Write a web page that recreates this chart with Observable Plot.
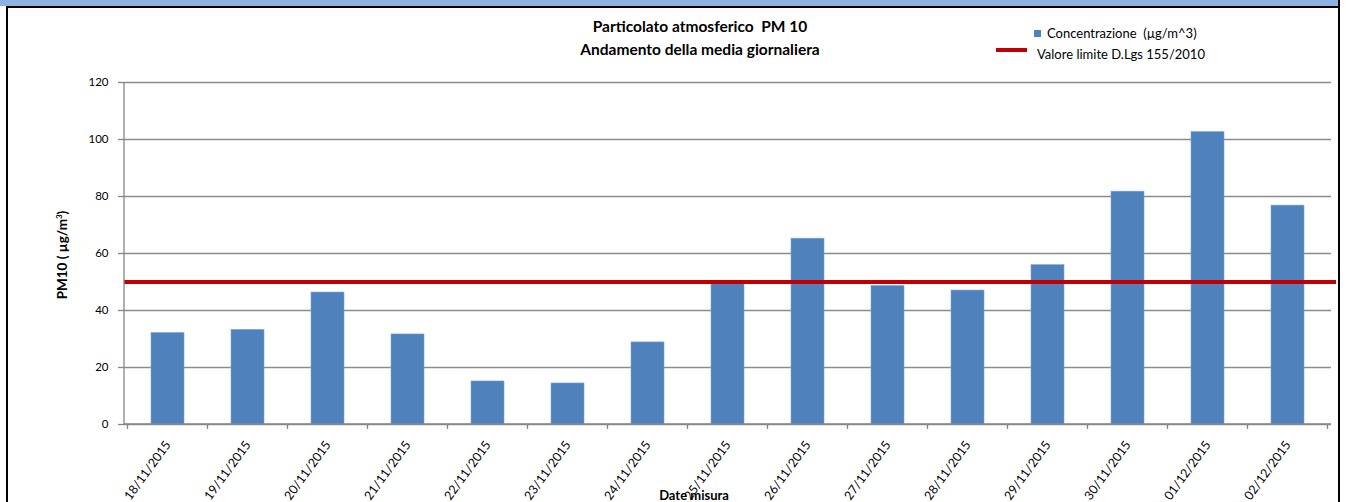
<!DOCTYPE html>
<html>
<head>
<meta charset="utf-8">
<script src="https://cdn.jsdelivr.net/npm/d3@7"></script>
<script src="https://cdn.jsdelivr.net/npm/@observablehq/plot@0.6"></script>
<style>
  html, body { margin: 0; padding: 0; background: #fff; }
  #wrap { position: relative; width: 1346px; height: 502px; overflow: hidden; font-family: Lato, "Open Sans", sans-serif; color: #000; }
  #chart { position: absolute; left: 0; top: 0; }
  .abs { position: absolute; white-space: nowrap; }
  #band { left: 0; top: 0; width: 1340px; height: 6px; background: #8DB3E2; }
  #topline { left: 6px; top: 6px; width: 1334px; height: 2px; background: #000; }
  #leftline { left: 6px; top: 6px; width: 2px; height: 496px; background: #000; }
  #rightline { left: 1338px; top: 0px; width: 2px; height: 502px; background: #000; }
  .title { left: 450px; width: 500px; text-align: center; font-weight: bold; font-size: 15.5px; }
  .leg { font-size: 13px; }
</style>
</head>
<body>
<div id="wrap">
  <div id="chart"></div>
  <div class="abs" id="band"></div>
  <div class="abs" id="topline"></div>
  <div class="abs" id="leftline"></div>
  <div class="abs" id="rightline"></div>
  <div class="abs title" style="top:17px">Particolato atmosferico&nbsp;&nbsp;PM 10</div>
  <div class="abs title" style="top:40px">Andamento della media giornaliera</div>
  <div class="abs" style="left:1034px; top:30px; width:7px; height:7px; background:#4F81BD"></div>
  <div class="abs leg" style="left:1047px; top:25px">Concentrazione&nbsp;&nbsp;(µg/m^3)</div>
  <div class="abs" style="left:996px; top:48px; width:31px; height:4px; background:#C00000"></div>
  <div class="abs leg" style="left:1037px; top:46px">Valore limite D.Lgs 155/2010</div>
  <div class="abs" style="left:62px; top:255px; transform: translate(-50%,-50%) rotate(-90deg); font-size:13.5px; font-weight:bold;">PM10 ( µg/m<sup style="font-size:8px">3</sup>)</div>
  <div class="abs" style="left:694px; top:487px; transform: translateX(-50%); font-size:13px; font-weight:bold;">Date misura</div>
</div>
<script>
const dates = ["18/11/2015","19/11/2015","20/11/2015","21/11/2015","22/11/2015","23/11/2015","24/11/2015","25/11/2015","26/11/2015","27/11/2015","28/11/2015","29/11/2015","30/11/2015","01/12/2015","02/12/2015"];
const concentrazione = [32.1, 33.2, 46.3, 31.6, 15.1, 14.4, 28.8, 50.2, 65.2, 48.6, 47.0, 55.9, 81.7, 102.6, 76.8];
const limite = 50;
const yTicks = [0, 20, 40, 60, 80, 100, 120];

const data = dates.map((d, i) => ({date: d, value: concentrazione[i]}));

// Excel-style category tick marks between bars, drawn from the x scale
function categoryTicks(index, scales, values, dimensions) {
  const x = scales.x, y = scales.y;
  const bw = x.bandwidth(), step = x.step();
  const g = d3.create("svg:g").attr("stroke", "#868686").attr("stroke-width", 1.3);
  const positions = dates.map(d => x(d) + bw / 2 - step / 2);
  positions.push(x(dates[dates.length - 1]) + bw / 2 + step / 2);
  const y0 = y(0);
  for (const p of positions) {
    g.append("line").attr("x1", p).attr("x2", p).attr("y1", y0).attr("y2", y0 + 5);
  }
  // axis lines
  g.append("line").attr("x1", dimensions.marginLeft).attr("x2", dimensions.width - dimensions.marginRight)
    .attr("y1", y0).attr("y2", y0);
  g.append("line").attr("x1", dimensions.marginLeft).attr("x2", dimensions.marginLeft)
    .attr("y1", y(120)).attr("y2", y0);
  return g.node();
}

const chart = Plot.plot({
  width: 1346,
  height: 502,
  marginLeft: 124,
  marginRight: 15,
  marginTop: 82,
  marginBottom: 78,
  style: {fontFamily: "Lato, 'Open Sans', sans-serif", fontSize: "10px", background: "transparent", color: "#000"},
  x: {domain: dates, paddingInner: 0.59, paddingOuter: 0.295, label: null},
  y: {domain: [0, 120], label: null},
  marks: [
    Plot.gridY(yTicks, {stroke: "#8c8c8c", strokeOpacity: 1, strokeWidth: 1.5}),
    Plot.barY(data, {x: "date", y: "value", fill: "#4F81BD", stroke: "#7ea3d4", strokeWidth: 0.6}),
    Plot.ruleY([limite], {stroke: "#C00000", strokeWidth: 4, insetRight: -5}),
    categoryTicks,
    Plot.axisY(yTicks, {tickSize: 6, tickPadding: 10, stroke: "#868686", strokeWidth: 1.3, fontSize: 11.5, label: null}),
    Plot.axisX({tickSize: 0, tickRotate: -54, tickPadding: 18, fontSize: 12.5, label: null})
  ]
});
document.getElementById("chart").appendChild(chart);
</script>
</body>
</html>
